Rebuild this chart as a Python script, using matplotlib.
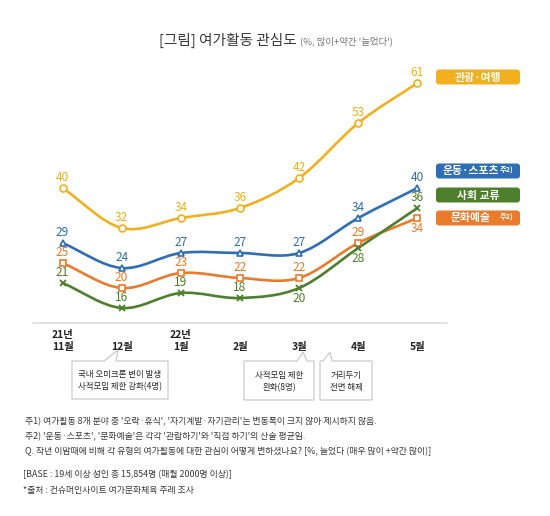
import matplotlib
matplotlib.use("Agg")
import matplotlib.pyplot as plt
from matplotlib.path import Path
from matplotlib.patches import PathPatch, FancyBboxPatch, Polygon

plt.rcParams["font.family"] = ["Noto Sans CJK KR", "DejaVu Sans"]

MONTHS = ["21년\n11월", "\n12월", "22년\n1월", "\n2월", "\n3월", "\n4월", "\n5월"]
TOUR = [40, 32, 34, 36, 42, 53, 61]
SPORTS = [29, 24, 27, 27, 27, 34, 40]
CULTURE = [25, 20, 23, 22, 22, 29, 34]
SOCIAL = [21, 16, 19, 18, 20, 28, 36]

# label position per point: +1 above, -1 below
CULTURE_POS = [1, 1, 1, 1, 1, 1, -1]
SOCIAL_POS = [1, 1, 1, 1, -1, -1, 1]

GOLD = "#F2B01E"
BLUE = "#2F6DB5"
ORANGE = "#EA7B2C"
GREEN = "#4E7F2C"

W, H = 550, 516


def fx(x):
    return x / W


def fy(y):
    return 1 - y / H


def smooth_path(xs, ys):
    n = len(xs)
    slopes = []
    for i in range(n):
        if i == 0:
            slopes.append(ys[1] - ys[0])
        elif i == n - 1:
            slopes.append(ys[-1] - ys[-2])
        else:
            slopes.append((ys[i + 1] - ys[i - 1]) / 2)
    verts = [(xs[0], ys[0])]
    codes = [Path.MOVETO]
    for i in range(n - 1):
        dx = (xs[i + 1] - xs[i]) / 3
        verts += [
            (xs[i] + dx, ys[i] + slopes[i] / 3),
            (xs[i + 1] - dx, ys[i + 1] - slopes[i + 1] / 3),
            (xs[i + 1], ys[i + 1]),
        ]
        codes += [Path.CURVE4] * 3
    return Path(verts, codes)


fig = plt.figure(figsize=(W / 100, H / 100), dpi=100)
fig.patch.set_facecolor("white")
ax = fig.add_axes([fx(33), fy(323), 414 / W, 263 / H])
ax.set_xlim(-0.5, 6.5)
ax.set_ylim(13, 13 + 263 / 5)

x = list(range(len(MONTHS)))
series = [
    (TOUR, GOLD, "o", [1] * 7),
    (SPORTS, BLUE, "^", [1] * 7),
    (CULTURE, ORANGE, "s", CULTURE_POS),
    (SOCIAL, GREEN, "x", SOCIAL_POS),
]
for vals, color, marker, pos in series:
    ax.add_patch(PathPatch(smooth_path(x, vals), fc="none", ec=color, lw=1.9,
                           capstyle="round", zorder=2))
    if marker == "x":
        ax.plot(x, vals, ls="none", marker="x", ms=5, mew=1.3, color=color, zorder=3)
    else:
        ax.plot(x, vals, ls="none", marker=marker, ms=5, mew=1.2, mfc="white",
                mec=color, zorder=3)
    for xi, v, p in zip(x, vals, pos):
        ax.annotate(str(v), (xi, v), xytext=(0, 7.8 * p), textcoords="offset points",
                    ha="center", va="center", fontsize=8.6, color=color, zorder=4)

for side in ("left", "right", "top"):
    ax.spines[side].set_visible(False)
ax.spines["bottom"].set_color("#dddddd")
ax.spines["bottom"].set_linewidth(1.2)
ax.set_yticks([])
ax.set_xticks(x)
ax.set_xticklabels(MONTHS, fontsize=7.4, fontweight="bold", color="#222222",
                   linespacing=1.3)
ax.tick_params(axis="x", length=0, pad=5)

# title
fig.text(fx(297), fy(40), "[그림] 여가활동 관심도", ha="right", va="center",
         fontsize=10.6, fontweight="medium", color="#3a3a3a")
fig.text(fx(300), fy(41), "(%, 많이+약간 '늘었다')", ha="left", va="center",
         fontsize=6.8, color="#777777")

# legend tags
tags = [
    ("관광·여행", GOLD, 77, ""),
    ("운동·스포츠", BLUE, 171, "주2)"),
    ("사회 교류", GREEN, 195, ""),
    ("문화예술", ORANGE, 218, "주2)"),
]
for label, color, yc, sup in tags:
    fig.patches.append(FancyBboxPatch((fx(436), fy(yc + 7.5)), 84 / W, 15 / H,
                                      boxstyle="round,pad=0,rounding_size=0.006",
                                      fc=color, ec="none", transform=fig.transFigure))
    if sup:
        fig.text(fx(471), fy(yc + 0.5), label, ha="center", va="center", fontsize=7.8,
                 fontweight="bold", color="white")
        fig.text(fx(500), fy(yc - 1.5), sup, ha="left", va="center", fontsize=5.2,
                 fontweight="bold", color="white")
    else:
        fig.text(fx(478), fy(yc + 0.5), label, ha="center", va="center", fontsize=7.8,
                 fontweight="bold", color="white")

# callout boxes
callouts = [
    ((72, 361, 168, 399), [(104, 361), (118, 350), (116, 361)],
     "국내 오미크론 변이 발생\n사적모임 제한 강화(4명)"),
    ((244, 361, 314, 400), [(297, 361), (303, 352), (307, 361)],
     "사적모임 제한\n완화(8명)"),
    ((320, 361, 372, 400), [(323, 361), (330, 352), (332, 361)],
     "거리두기\n전면 해제"),
]
for (x0, y0, x1, y1), tri, text in callouts:
    t0, tip, t1 = tri
    pts = [(x0, y0), t0, tip, t1, (x1, y0), (x1, y1), (x0, y1)]
    fig.patches.append(Polygon([(fx(a), fy(b)) for a, b in pts], closed=True,
                               fc="white", ec="#cccccc", lw=0.9,
                               transform=fig.transFigure))
    fig.text(fx((x0 + x1) / 2), fy((y0 + y1) / 2 + 1), text, ha="center",
             va="center", fontsize=6.1, fontweight="medium", color="#2a2a2a",
             linespacing=1.45)

# notes
notes = [
    (25, 422, "주1) 여가활동 8개 분야 중 '오락·휴식', '자기계발·자기관리'는 변동폭이 크지 않아 제시하지 않음."),
    (25, 437, "주2) '운동·스포츠', '문화예술'은 각각 '관람하기'와 '직접 하기'의 산술 평균임."),
    (25, 452, "Q. 작년 이맘때에 비해 각 유형의 여가활동에 대한 관심이 어떻게 변하셨나요? [%, 늘었다 (매우 많이 +약간 많이)]"),
    (23, 475, "[BASE : 19세 이상 성인 총 15,854명 (매월 2000명 이상)]"),
    (23, 490, "*출처 : 컨슈머인사이트 여가문화체육 주례 조사"),
]
for nx, ny, text in notes:
    fig.text(fx(nx), fy(ny), text, ha="left", va="center", fontsize=6.4,
             color="#3a3a3a")

fig.savefig("out.png", dpi=100, facecolor="white")
